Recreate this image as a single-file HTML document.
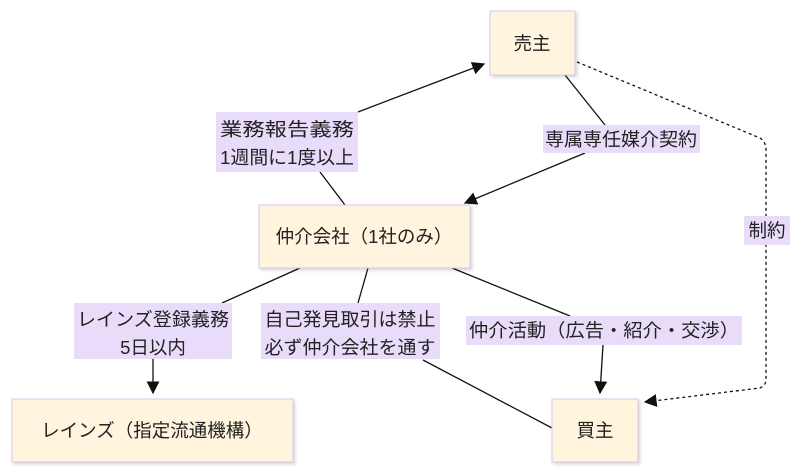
<!DOCTYPE html>
<html><head><meta charset="utf-8"><style>
html,body{margin:0;padding:0;background:#fff;}
svg{display:block;font-family:"Liberation Sans","Noto Sans CJK JP",sans-serif;}
</style></head><body>
<svg width="800" height="472" viewBox="0 0 800 472" xmlns="http://www.w3.org/2000/svg">
<defs>
<marker id="a" viewBox="0 0 10 10" refX="9" refY="5" markerWidth="13" markerHeight="13" orient="auto-start-reverse" markerUnits="userSpaceOnUse"><path d="M0,0L10,5L0,10z" fill="#111"/></marker>
<filter id="s" x="-10%" y="-10%" width="130%" height="130%"><feDropShadow dx="2" dy="2" stdDeviation="1.5" flood-color="#000" flood-opacity="0.15"/></filter>
</defs>
<g stroke="#111" stroke-width="1.3" fill="none">
<path d="M345,205 L320,172"/>
<path d="M358,112 L484,64" marker-end="url(#a)"/>
<path d="M565,75 L605,125"/>
<path d="M585,153 L465,203" marker-end="url(#a)"/>
<path d="M577,62 L760,138 Q766,142 766,150 L766,380 Q766,385 760,388 L645,402" stroke-dasharray="3,3" marker-end="url(#a)"/>
<path d="M300,268 L222,303"/>
<path d="M153,358 L153,393" marker-end="url(#a)"/>
<path d="M368,268 L358,303"/>
<path d="M423,360 L552,428"/>
<path d="M452,268 L570,316"/>
<path d="M603,345 L600,393" marker-end="url(#a)"/>
</g>
<g fill="#fff4dd" stroke="#d8c8ec" stroke-width="1" filter="url(#s)">
<rect x="490" y="11" width="85" height="64"/>
<rect x="259" y="205" width="211" height="63"/>
<rect x="12" y="399" width="281" height="63"/>
<rect x="552" y="399" width="86" height="63"/>
</g>
<g fill="#e9dcfb">
<rect x="216" y="112" width="142" height="60"/>
<rect x="543" y="125" width="157" height="28"/>
<rect x="744" y="216" width="46" height="29"/>
<rect x="74" y="303" width="158" height="56"/>
<rect x="261" y="303" width="179" height="56"/>
<rect x="466" y="316" width="276" height="29"/>
</g>
<g fill="#222" font-size="18.5" text-anchor="middle">
<text x="532" y="50">売主</text>
<text x="364" y="243">仲介会社（1社のみ）</text>
<text x="152" y="437">レインズ（指定流通機構）</text>
<text x="595" y="437">買主</text>
<text x="287" y="136" textLength="134" lengthAdjust="spacingAndGlyphs">業務報告義務</text>
<text x="287" y="164" textLength="134" lengthAdjust="spacingAndGlyphs">1週間に1度以上</text>
<text x="621" y="146" textLength="152" lengthAdjust="spacingAndGlyphs">専属専任媒介契約</text>
<text x="767" y="237">制約</text>
<text x="153" y="326" textLength="152" lengthAdjust="spacingAndGlyphs">レインズ登録義務</text>
<text x="153" y="354">5日以内</text>
<text x="350" y="326" textLength="171" lengthAdjust="spacingAndGlyphs">自己発見取引は禁止</text>
<text x="350" y="354" textLength="171" lengthAdjust="spacingAndGlyphs">必ず仲介会社を通す</text>
<text x="604" y="337" textLength="270" lengthAdjust="spacingAndGlyphs">仲介活動（広告・紹介・交渉）</text>
</g>
</svg>
</body></html>
